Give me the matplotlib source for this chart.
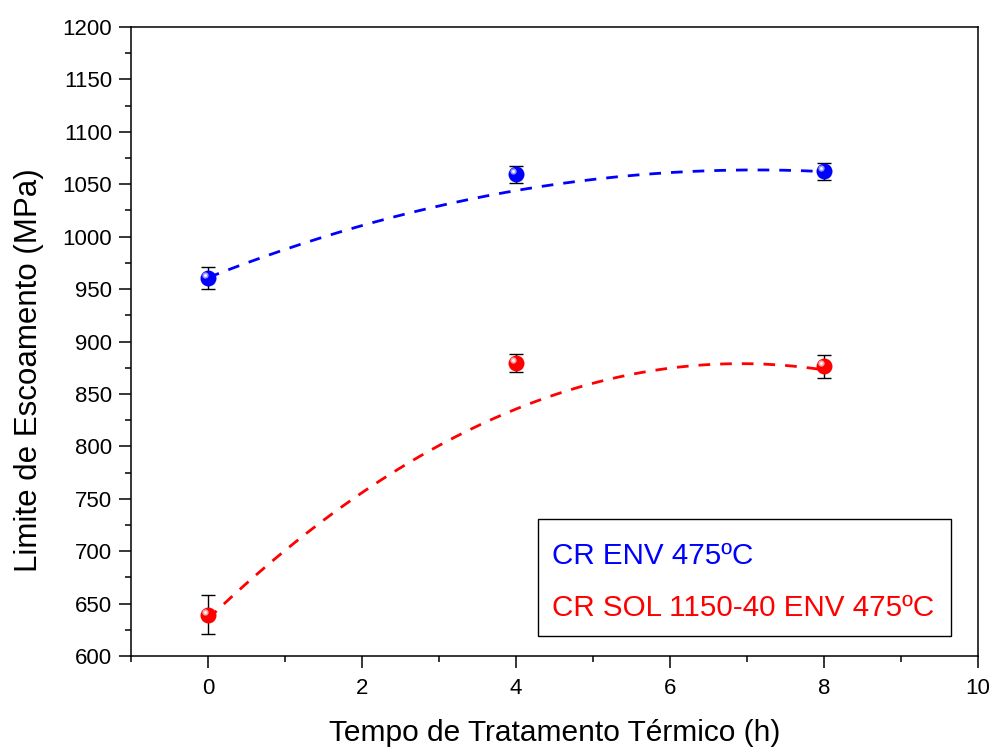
import numpy as np
import matplotlib
matplotlib.use("Agg")
import matplotlib.pyplot as plt
from matplotlib.patches import Rectangle
from matplotlib.transforms import offset_copy
from matplotlib.ticker import MultipleLocator

plt.rcParams['font.family'] = ['Liberation Sans', 'DejaVu Sans']

# Heat-treatment time (h)
tempo = [0, 4, 8]

# Yield strength, cold rolled + aged at 475 ºC
cr_env = [960.7, 1059.6, 1062.4]
cr_env_err = [10.2, 8.0, 8.3]

# Yield strength, cold rolled + solubilized 1150 ºC/40 min + aged at 475 ºC
cr_sol = [639.5, 879.5, 876.4]
cr_sol_err = [18.8, 8.6, 10.8]

# Second-order polynomial trend lines (c2, c1, c0)
fit_env = [-2.03, 28.87, 961.0]
fit_sol = [-5.09, 70.4, 635.5]

labels = ["CR ENV 475ºC", "CR SOL 1150-40 ENV 475ºC"]
colors = ["#0000ff", "#ff0000"]
highlight = ["#b8b8ff", "#ffc8c8"]

fig = plt.figure(figsize=(9.93, 7.49), dpi=100)
ax = fig.add_axes([0.132, 0.124, 0.853, 0.840])

xs = np.linspace(0, 8, 200)
for coef, c in zip([fit_env, fit_sol], colors):
    ax.plot(xs, np.polyval(coef, xs), color=c, lw=2.0,
            linestyle=(0, (4.2, 3.6)), zorder=2)

hl = offset_copy(ax.transData, fig=fig, x=-2.2, y=2.2, units='points')
for y, e, c, h in zip([cr_env, cr_sol], [cr_env_err, cr_sol_err], colors, highlight):
    ax.errorbar(tempo, y, yerr=e, fmt='none', ecolor='black', elinewidth=1.0,
                capsize=4.8, capthick=1.0, zorder=3)
    ax.plot(tempo, y, 'o', color=c, markersize=11.5, markeredgewidth=0, zorder=4)
    ax.plot(tempo, y, 'o', color=h, markersize=4.5, markeredgewidth=0,
            alpha=0.85, transform=hl, zorder=5)
    ax.plot(tempo, y, 'o', color='white', markersize=2.0, markeredgewidth=0,
            transform=hl, zorder=6)

ax.set_xlim(-1, 10)
ax.set_ylim(600, 1200)
ax.xaxis.set_major_locator(MultipleLocator(2))
ax.xaxis.set_minor_locator(MultipleLocator(1))
ax.yaxis.set_major_locator(MultipleLocator(50))
ax.yaxis.set_minor_locator(MultipleLocator(25))
ax.tick_params(which='both', direction='out', width=1.1, top=False, right=False,
               labelsize=16, colors='black')
ax.tick_params(which='major', length=8.6)
ax.tick_params(which='minor', length=4.3)
ax.tick_params(axis='x', pad=7)
ax.tick_params(axis='y', pad=5)
for s in ax.spines.values():
    s.set_linewidth(1.1)

ax.set_xlabel("Tempo de Tratamento Térmico (h)", fontsize=21.5)
ax.set_ylabel("Limite de Escoamento (MPa)", fontsize=22.5)
ax.xaxis.set_label_coords(0.5, -0.1)
ax.yaxis.set_label_coords(-0.103, 0.455)

# Legend box with coloured series names
ax.add_patch(Rectangle((0.4805, 0.0318), 0.4875, 0.186, transform=ax.transAxes,
                       facecolor='white', edgecolor='black', lw=1.0, zorder=7))
for yy, lab, c in zip([0.159, 0.0763], labels, colors):
    ax.text(0.497, yy, lab, color=c, fontsize=21.3, transform=ax.transAxes,
            ha='left', va='center', zorder=8)

fig.savefig("out.png", dpi=100)
